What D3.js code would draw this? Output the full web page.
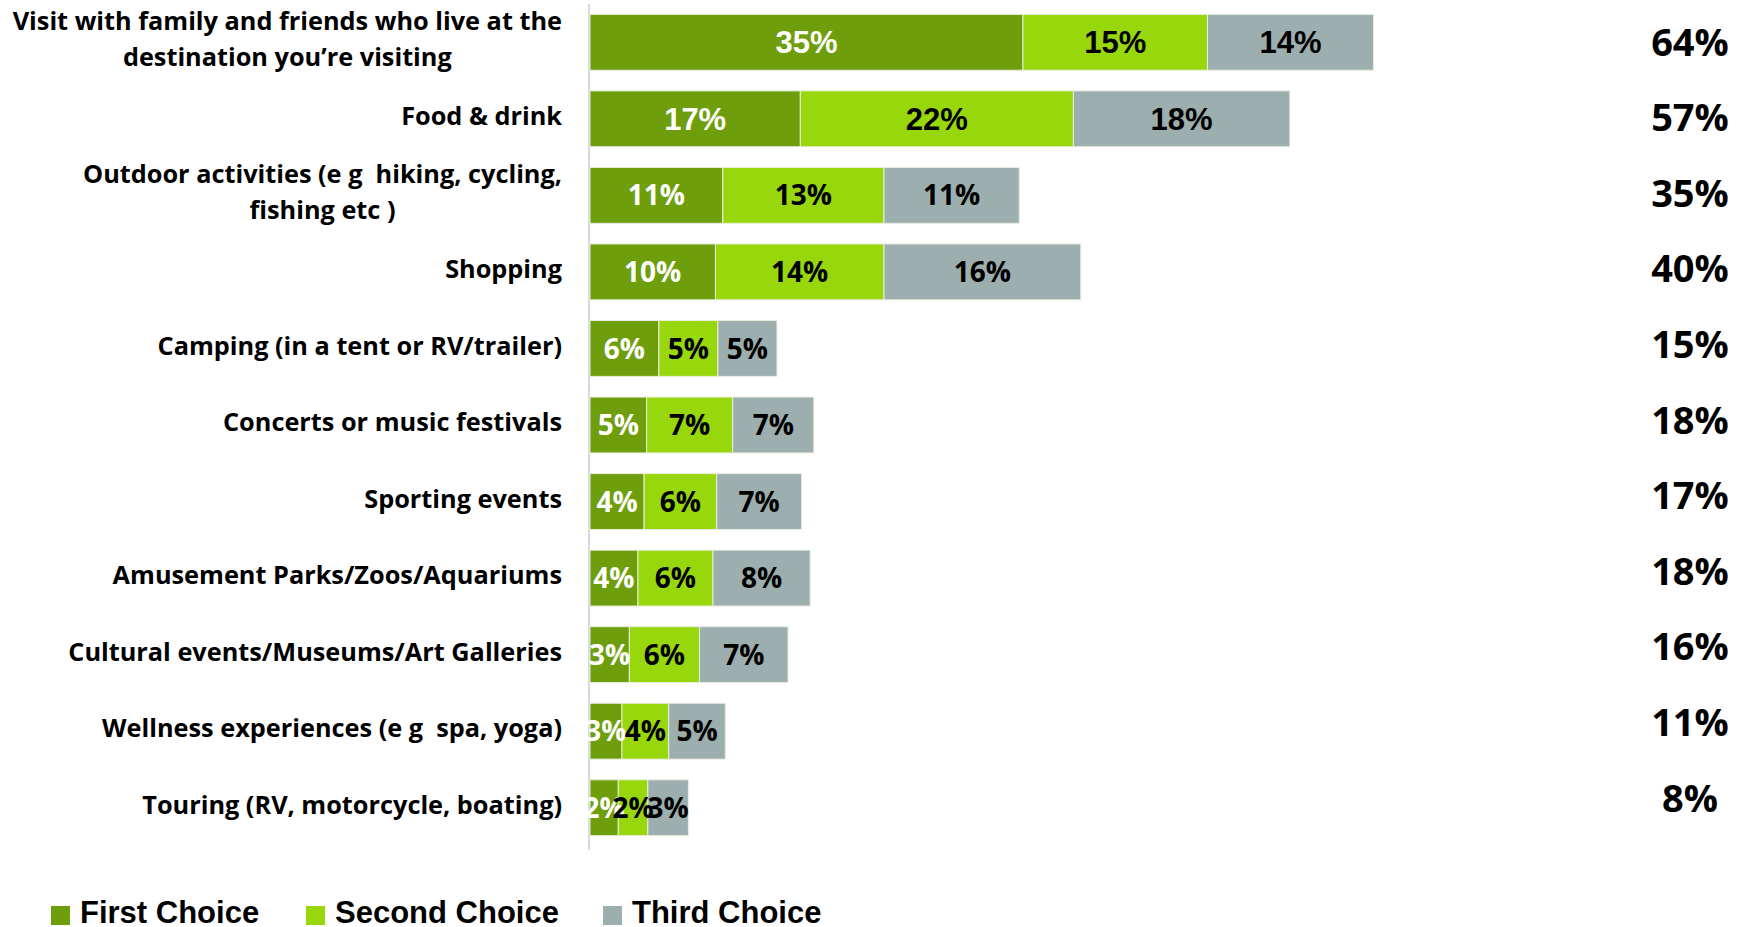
<!DOCTYPE html>
<html>
<head>
<meta charset="utf-8">
<script src="https://cdn.jsdelivr.net/npm/d3@7"></script>
<style>
  html, body { margin: 0; padding: 0; background: #fff; }
  svg { display: block; }
  text { white-space: pre; }
</style>
</head>
<body>
<svg id="chart" width="1737" height="927"></svg>
<script>
// ---- data ----
const categories = [
  ["Visit with family and friends who live at the", "destination you\u2019re visiting"],
  ["Food & drink"],
  ["Outdoor activities (e g  hiking, cycling,", "fishing etc )"],
  ["Shopping"],
  ["Camping (in a tent or RV/trailer)"],
  ["Concerts or music festivals"],
  ["Sporting events"],
  ["Amusement Parks/Zoos/Aquariums"],
  ["Cultural events/Museums/Art Galleries"],
  ["Wellness experiences (e g  spa, yoga)"],
  ["Touring (RV, motorcycle, boating)"]
];
const seriesNames = ["First Choice", "Second Choice", "Third Choice"];
const firstChoice  = [35.2, 17.1, 10.8, 10.2, 5.6, 4.6, 4.4, 3.9, 3.2, 2.6, 2.3];
const secondChoice = [15.0, 22.2, 13.1, 13.7, 4.8, 7.0, 5.9, 6.1, 5.7, 3.8, 2.4];
const thirdChoice  = [13.5, 17.6, 11.0, 16.0, 4.8, 6.6, 6.9, 7.9, 7.2, 4.6, 3.3];
const totals       = [64, 57, 35, 40, 15, 18, 17, 18, 16, 11, 8];
const colors = ["#6e9e0b", "#98d70b", "#9daeae"];

// ---- setup ----
const svg = d3.select("#chart");
const ids = d3.range(categories.length);

const x = d3.scaleLinear().domain([0, 64]).range([590, 590 + 64 * 12.3]);
const y = d3.scaleBand().domain(ids).range([4, 846]).paddingInner(0.27).paddingOuter(0.135);
const yTot = d3.scalePoint().domain(ids).range([42, 798]);

const rows = ids.map(i => ({ i, vals: [firstChoice[i], secondChoice[i], thirdChoice[i]] }));
const stackGen = d3.stack().keys([0, 1, 2]).value((d, k) => d.vals[k]);
const stacked = stackGen(rows);

// axis line
svg.append("line")
  .attr("x1", x(0) - 1).attr("x2", x(0) - 1)
  .attr("y1", 4).attr("y2", 850)
  .attr("stroke", "#d9d9d9").attr("stroke-width", 2);

// bars
const layer = svg.selectAll("g.layer").data(stacked).join("g").attr("class", "layer")
  .attr("fill", (d, k) => colors[k]);
layer.selectAll("rect").data(d => d).join("rect")
  .attr("x", d => x(d[0]))
  .attr("width", d => x(d[1]) - x(d[0]))
  .attr("y", d => y(d.data.i))
  .attr("height", y.bandwidth())
  .attr("stroke", "#e8eee0").attr("stroke-width", 1);

// segment labels
stacked.forEach((s, k) => {
  svg.append("g").selectAll("text").data(s).join("text")
    .attr("x", d => (x(d[0]) + x(d[1])) / 2)
    .attr("y", d => y(d.data.i) + y.bandwidth() / 2)
    .attr("dy", "0.36em")
    .attr("text-anchor", "middle")
    .attr("font-family", d => d.data.i < 2 ? "'Liberation Sans Narrow', 'Liberation Sans', sans-serif" : "'Open Sans', sans-serif")
    .attr("font-weight", 700)
    .attr("font-size", d => d.data.i < 2 ? 31 : 28)
    .attr("fill", k === 0 ? "#ffffff" : "#000000")
    .text(d => Math.round(d.data.vals[k]) + "%");
});

// category labels (multi-line: centered within block, block right-aligned)
const labelRight = 562;
ids.forEach(i => {
  const lines = categories[i];
  const g = svg.append("g");
  const lh = 36;
  const cy = y(i) + y.bandwidth() / 2;
  const texts = g.selectAll("text").data(lines).join("text")
    .attr("font-family", "'Open Sans', sans-serif")
    .attr("font-weight", 700)
    .attr("font-size", 25.3)
    .attr("fill", "#000")
    .attr("dy", "0.36em")
    .attr("y", (d, j) => cy - 3 + (j - (lines.length - 1) / 2) * lh)
    .text(d => d);
  let maxW = 0;
  texts.each(function () { maxW = Math.max(maxW, this.getComputedTextLength()); });
  texts.attr("text-anchor", "middle").attr("x", labelRight - maxW / 2);
});

// totals
svg.append("g").selectAll("text").data(ids).join("text")
  .attr("x", 1690)
  .attr("y", i => yTot(i))
  .attr("dy", "0.36em")
  .attr("text-anchor", "middle")
  .attr("font-family", "'Open Sans', sans-serif")
  .attr("font-weight", 700)
  .attr("font-size", 38)
  .attr("fill", "#000")
  .text(i => totals[i] + "%");

// legend
const legendX = [51, 306, 603];
const lg = svg.append("g").selectAll("g").data(seriesNames).join("g")
  .attr("transform", (d, k) => `translate(${legendX[k]},0)`);
lg.append("rect").attr("x", 0).attr("y", 906).attr("width", 19).attr("height", 19)
  .attr("fill", (d, k) => colors[k]);
lg.append("text").attr("x", 29).attr("y", 923)
  .attr("font-family", "'Liberation Sans Narrow', 'Liberation Sans', sans-serif")
  .attr("font-weight", 700).attr("font-size", 31).attr("fill", "#000")
  .text(d => d);
</script>
</body>
</html>
